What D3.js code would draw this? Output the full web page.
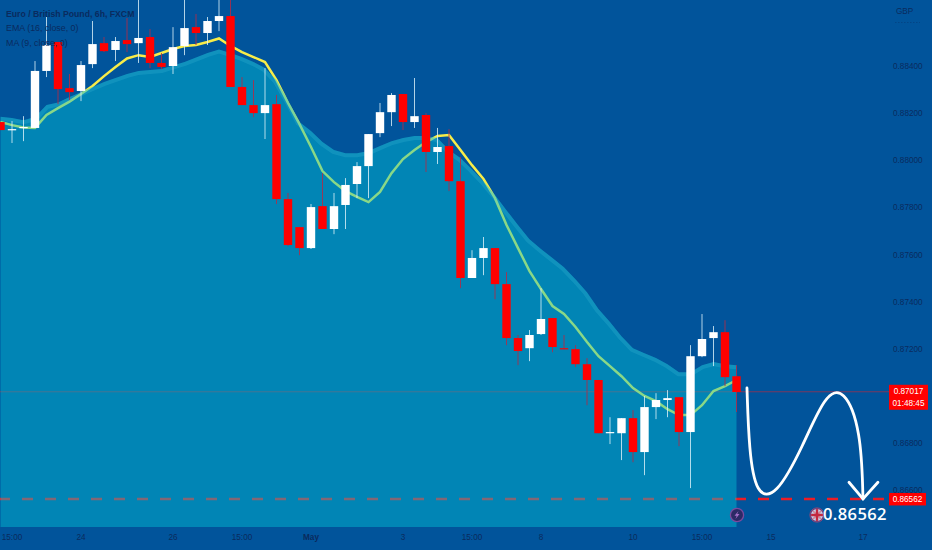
<!DOCTYPE html>
<html><head><meta charset="utf-8">
<script src="https://cdn.jsdelivr.net/npm/d3@7/dist/d3.min.js"></script>
<style>html,body{margin:0;padding:0;background:#01549b;overflow:hidden}svg{display:block}text{font-family:"Liberation Sans",Arial,sans-serif}</style>
</head><body>
<svg id="c" width="932" height="550"></svg>
<script>
const opens=[0.88162,0.88128,0.88137,0.88137,0.88379,0.88502,0.88306,0.88294,0.88408,0.88497,
0.88468,0.88510,0.88497,0.88523,0.88413,0.88400,0.88485,0.88565,0.88540,0.88591,
0.88612,0.88311,0.88234,0.88200,0.88238,0.87835,0.87716,0.87627,0.87805,0.87708,
0.87810,0.87899,0.87975,0.88115,0.88204,0.88281,0.88162,0.88192,0.88035,0.88060,
0.87911,0.87500,0.87585,0.87627,0.87474,0.87245,0.87202,0.87262,0.87330,0.87202,
0.87198,0.87134,0.87067,0.86841,0.86841,0.86905,0.86761,0.86952,0.86982,0.86994,
0.86846,0.87168,0.87245,0.87270,0.87083];
const highs=[0.88162,0.88166,0.88187,0.88421,0.88608,0.88502,0.88366,0.88421,0.88591,0.88523,
0.88523,0.88604,0.88701,0.88557,0.88455,0.88565,0.88701,0.88621,0.88608,0.88701,
0.88701,0.88353,0.88340,0.88391,0.88277,0.87861,0.87716,0.87814,0.87945,0.87861,
0.87924,0.87992,0.88111,0.88243,0.88285,0.88281,0.88349,0.88200,0.88137,0.88132,
0.88013,0.87618,0.87674,0.87627,0.87525,0.87258,0.87279,0.87457,0.87330,0.87258,
0.87215,0.87160,0.87067,0.86909,0.86905,0.86939,0.86999,0.87011,0.87024,0.86994,
0.87215,0.87347,0.87296,0.87321,0.87130];
const lows=[0.88128,0.88073,0.88081,0.88137,0.88353,0.88238,0.88255,0.88251,0.88391,0.88459,
0.88421,0.88459,0.88413,0.88391,0.88387,0.88366,0.88446,0.88489,0.88489,0.88548,
0.88311,0.88234,0.88183,0.88090,0.87814,0.87635,0.87597,0.87623,0.87708,0.87686,
0.87708,0.87839,0.87839,0.88098,0.88145,0.88128,0.88137,0.87950,0.87984,0.87869,
0.87457,0.87500,0.87512,0.87410,0.87215,0.87130,0.87147,0.87258,0.87185,0.87198,
0.87122,0.86960,0.86841,0.86795,0.86727,0.86718,0.86663,0.86901,0.86909,0.86786,
0.86608,0.87164,0.87126,0.87041,0.86931];
const closes=[0.88128,0.88132,0.88141,0.88379,0.88489,0.88302,0.88289,0.88404,0.88493,0.88463,
0.88506,0.88493,0.88519,0.88413,0.88396,0.88480,0.88561,0.88540,0.88591,0.88612,
0.88311,0.88234,0.88200,0.88234,0.87835,0.87640,0.87627,0.87801,0.87708,0.87805,
0.87895,0.87975,0.88111,0.88204,0.88277,0.88162,0.88187,0.88035,0.88056,0.87911,
0.87500,0.87585,0.87627,0.87474,0.87245,0.87190,0.87258,0.87326,0.87207,0.87198,
0.87134,0.87067,0.86841,0.86846,0.86905,0.86761,0.86952,0.86982,0.86990,0.86846,
0.87168,0.87241,0.87270,0.87079,0.87016];
const emaValues=[0.88185,0.88179,0.88170,0.88183,0.88234,0.88245,0.88268,0.88289,0.88311,0.88332,
0.88349,0.88366,0.88379,0.88383,0.88387,0.88402,0.88417,0.88436,0.88455,0.88470,
0.88455,0.88438,0.88417,0.88391,0.88340,0.88255,0.88162,0.88124,0.88077,0.88043,
0.88030,0.88030,0.88039,0.88060,0.88081,0.88094,0.88103,0.88103,0.88094,0.88043,
0.88009,0.87962,0.87911,0.87852,0.87788,0.87725,0.87665,0.87623,0.87585,0.87546,
0.87495,0.87440,0.87368,0.87313,0.87253,0.87202,0.87181,0.87160,0.87134,0.87100,
0.87100,0.87130,0.87143,0.87134,0.87130];
const maValues=[0.88162,0.88149,0.88139,0.88137,0.88192,0.88221,0.88249,0.88281,0.88315,0.88357,
0.88396,0.88432,0.88446,0.88438,0.88455,0.88472,0.88485,0.88489,0.88502,0.88517,
0.88485,0.88459,0.88438,0.88417,0.88340,0.88243,0.88153,0.88056,0.87954,0.87907,
0.87869,0.87844,0.87822,0.87865,0.87945,0.88005,0.88043,0.88077,0.88103,0.88107,
0.88043,0.87979,0.87920,0.87839,0.87725,0.87627,0.87529,0.87453,0.87381,0.87347,
0.87292,0.87228,0.87168,0.87126,0.87083,0.87033,0.86999,0.86977,0.86943,0.86918,
0.86918,0.86960,0.87020,0.87041,0.87067];
const priceTicks=[0.884,0.882,0.880,0.878,0.876,0.874,0.872,0.868,0.866];
const timeTickPos=[1,7,15,21,27,35,41,47,55,61,67,75];
const timeTickLabels=["15:00","24","26","15:00","May","3","15:00","8","10","15:00","15","17"];
const legendLines=["Euro / British Pound, 6h, FXCM","EMA (16, close, 0)","MA (9, close, 0)"];
const lastPrice=0.87017, lastCountdown="01:48:45", targetPrice=0.86562, targetLabel="0.86562";
const pathIdx=[64.91,65.09,65.70,67.43,69.78,71.70,73.35,74.83,75.0];
const pathPrice=[0.87033,0.86769,0.86578,0.86570,0.86786,0.87007,0.87033,0.86854,0.86562];
const arrowIdx=[73.78,75.0,76.3];
const arrowPrice=[0.86633,0.86562,0.86633];

const svg=d3.select("#c");
const x=d3.scaleLinear().domain([0,64]).range([0.5,736.5]);
const y=d3.scaleLinear().domain([0.884,0.866]).range([66,490]);
const idx=d3.range(opens.length);
const paneBottom=527, axisX=893, paneRight=889;
const textCol="#0a2b5e";
const defs=svg.append("defs");

svg.append("rect").attr("width",932).attr("height",550).attr("fill","#01549b");

// items lying beneath the translucent area
svg.append("line").attr("x1",0).attr("x2",paneRight).attr("y1",y(lastPrice)).attr("y2",y(lastPrice))
  .attr("stroke","#e0202c").attr("stroke-opacity",.55).attr("stroke-width",1);
svg.append("line").attr("x1",-1).attr("x2",paneRight).attr("y1",y(targetPrice)).attr("y2",y(targetPrice))
  .attr("stroke","#ee1c25").attr("stroke-width",2.4).attr("stroke-dasharray","11,12");
const maLine=d3.line().x(i=>x(i)).y(i=>y(maValues[i]));
svg.append("path").attr("d",maLine(idx)).attr("fill","none").attr("stroke","#f8ec48").attr("stroke-width",2.5);

// area under EMA
const areaGen=d3.area().x(i=>x(i)).y0(paneBottom).y1(i=>y(emaValues[i]));
defs.append("clipPath").attr("id","ac").append("path").attr("d",areaGen(idx));
svg.append("path").attr("d",areaGen(idx)).attr("fill","#03c0d5").attr("fill-opacity",.45);
svg.append("path").attr("clip-path","url(#ac)")
  .attr("d",d3.line().x(i=>x(i)).y(i=>y(emaValues[i]))(idx))
  .attr("fill","none").attr("stroke","#50c8e0").attr("stroke-opacity",.2).attr("stroke-width",8);

// candles
const g=svg.append("g");
const up=i=>closes[i]>=opens[i];
g.selectAll("line.w").data(idx).join("line").attr("class","w")
  .attr("x1",x).attr("x2",x).attr("y1",i=>y(highs[i])).attr("y2",i=>y(lows[i]))
  .attr("stroke",i=>up(i)?"#dff2fa":"#b02c48")
  .attr("stroke-opacity",i=>up(i)?.8:.85).attr("stroke-width",1);
g.selectAll("rect.b").data(idx).join("rect").attr("class","b")
  .attr("x",i=>x(i)-4.2).attr("width",8.4)
  .attr("y",i=>Math.min(y(opens[i]),y(closes[i])))
  .attr("height",i=>Math.max(1.2,Math.abs(y(opens[i])-y(closes[i]))))
  .attr("fill",i=>up(i)?"#ffffff":"#ff0000");

// axes
const ya=d3.axisRight(y).tickValues(priceTicks).tickFormat(d3.format(".5f")).tickSize(0).tickPadding(0);
const yg=svg.append("g").attr("transform",`translate(${axisX},0)`).call(ya);
yg.select(".domain").remove();
yg.selectAll("text").attr("font-size",8.2).attr("fill",textCol).style("font-family",'"Liberation Sans",Arial,sans-serif');
const xa=d3.axisBottom(x).tickValues(timeTickPos).tickFormat((d,i)=>timeTickLabels[i]).tickSize(0).tickPadding(0);
const xg=svg.append("g").attr("transform","translate(-0.5,534)").call(xa);
xg.select(".domain").remove();
xg.selectAll("text").attr("font-size",8.2).attr("fill",textCol).style("font-family",'"Liberation Sans",Arial,sans-serif')
  .attr("font-weight",(d,i)=>timeTickLabels[i]==="May"?"bold":"normal");

svg.append("text").attr("x",896).attr("y",14).attr("font-size",8.2).attr("fill",textCol).text("GBP");
svg.append("line").attr("x1",895).attr("x2",920).attr("y1",22.5).attr("y2",22.5).attr("stroke",textCol)
  .attr("stroke-opacity",.35).attr("stroke-dasharray","1.5,1.5");

// legend
svg.selectAll("text.lg").data(legendLines).join("text").attr("class","lg")
  .attr("x",6).attr("y",(d,i)=>17+i*14.3).attr("font-size",(d,i)=>i===0?8.7:8.9).attr("fill",textCol)
  .attr("font-weight",(d,i)=>i===0?"bold":"normal").text(d=>d);

// hand-drawn forecast
const curve=d3.line().x(d=>x(d[0])).y(d=>y(d[1])).curve(d3.curveBasis);
svg.append("path").attr("d",curve(pathIdx.map((v,i)=>[v,pathPrice[i]])))
  .attr("fill","none").attr("stroke","#fff").attr("stroke-width",2.8).attr("stroke-linecap","round");
svg.append("path").attr("d",d3.line().x(d=>x(d[0])).y(d=>y(d[1]))(arrowIdx.map((v,i)=>[v,arrowPrice[i]])))
  .attr("fill","none").attr("stroke","#fff").attr("stroke-width",2.8).attr("stroke-linecap","round").attr("stroke-linejoin","miter");

// price labels
const lab=svg.append("g");
lab.append("rect").attr("x",paneRight).attr("y",y(lastPrice)-7).attr("width",39).attr("height",25).attr("fill","#ff0000");
lab.append("text").attr("x",908.5).attr("y",y(lastPrice)+2.5).attr("text-anchor","middle").attr("font-size",8.2).attr("fill","#fff").text(d3.format(".5f")(lastPrice));
lab.append("text").attr("x",908.5).attr("y",y(lastPrice)+14.5).attr("text-anchor","middle").attr("font-size",8.2).attr("fill","#fff").text(lastCountdown);
lab.append("rect").attr("x",paneRight).attr("y",y(targetPrice)-6).attr("width",37).attr("height",12.5).attr("fill","#ff0000");
lab.append("text").attr("x",907.5).attr("y",y(targetPrice)+3).attr("text-anchor","middle").attr("font-size",8.2).attr("fill","#fff").text(d3.format(".5f")(targetPrice));

// event icons
const bolt=svg.append("g").attr("transform","translate(737,515)");
bolt.append("circle").attr("r",6.6).attr("fill","#2c2a66").attr("stroke","#7a4a9e").attr("stroke-width",1.3);
bolt.append("path").attr("d","M1.5,-4 L-2.5,0.8 L-0.3,0.8 L-1.5,4 L2.5,-1 L0.2,-1 Z").attr("fill","#a46fc8");
const flag=svg.append("g").attr("transform","translate(817,515)");
defs.append("clipPath").attr("id","fc").append("circle").attr("r",6);
flag.append("circle").attr("r",7.1).attr("fill","#5a3a80").attr("stroke","#8e4a7a").attr("stroke-width",1);
const fi=flag.append("g").attr("clip-path","url(#fc)");
fi.append("rect").attr("x",-6).attr("y",-6).attr("width",12).attr("height",12).attr("fill","#c8d2ea");
fi.append("path").attr("d","M-6,-6L6,6M6,-6L-6,6").attr("stroke","#d08898").attr("stroke-width",1.6);
fi.append("path").attr("d","M0,-6V6M-6,0H6").attr("stroke","#c42840").attr("stroke-width",2.4);

svg.append("text").attr("x",823).attr("y",519.5).attr("font-size",16.5).attr("font-weight",600)
  .attr("letter-spacing",0.4).attr("fill","#fff").style("font-family",'"Open Sans",sans-serif').text(targetLabel);
</script>
</body></html>
